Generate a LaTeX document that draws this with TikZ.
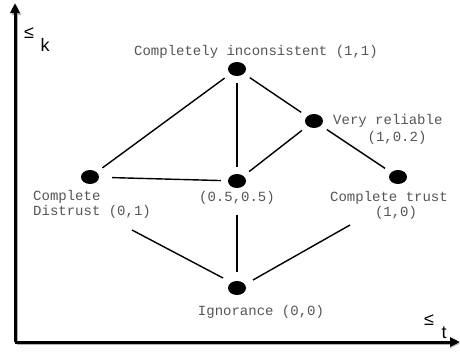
\documentclass[tikz,border=0pt]{standalone}
\usepackage{fontspec}
\setmainfont{Liberation Sans}
\newfontfamily\labelfont{Liberation Mono}
\usetikzlibrary{shapes.geometric,arrows.meta}
\definecolor{labelgray}{HTML}{555555}
\begin{document}
\begin{tikzpicture}[x=1pt,y=-1pt,
  dot/.style={ellipse,fill=black,inner sep=0pt,minimum width=18pt,minimum height=14pt},
  link/.style={line width=1.4pt,shorten <=7pt,shorten >=7pt},
  lbl/.style={font=\labelfont\fontsize{14}{15}\selectfont,text=labelgray,inner sep=0pt},
  axis/.style={line width=3pt,-{Triangle[length=10pt,width=9pt]}},
  axislbl/.style={font=\fontsize{18}{18}\selectfont,inner sep=0pt}]
\useasboundingbox (0,0) rectangle (460,351);
% axes with a faint shadow
\draw[axis,draw=black!30,fill=black!30] (16.5,343.5) -- (16.5,5);
\draw[axis,draw=black!30,fill=black!30] (16.5,343.5) -- (460,343.5);
\coordinate (origin) at (15,342);
\coordinate (ktip) at (15,3);
\coordinate (ttip) at (460,342);
\draw[axis] (origin) -- (ktip);
\draw[axis] (origin) -- (ttip);
\node[axislbl] (kleq) at (29,33) {≤};
\node[axislbl] (ksub) at (45,45) {k};
\node[axislbl] (tleq) at (429,320) {≤};
\node[axislbl] (tsub) at (444,333) {t};
% lattice points
\node[dot] (top) at (237,69) {};
\node[dot] (rel) at (314,121) {};
\node[dot] (dis) at (90,177) {};
\node[dot] (mid) at (237,181) {};
\node[dot] (tru) at (398,177) {};
\node[dot] (ign) at (237,288) {};
% labels
\node[lbl] (toplbl) at (256,52) {Completely inconsistent (1,1)};
\node[lbl,anchor=west] (rellbl) at (333,121) {Very reliable};
\node[lbl] (relval) at (397,138) {(1,0.2)};
\node[lbl] (trulbl) at (389,198) {Complete trust};
\node[lbl] (truval) at (396,213) {(1,0)};
\node[lbl,anchor=north west,align=left] (dislbl) at (33,190) {Complete\\Distrust (0,1)};
\node[lbl] (midlbl) at (237,198) {(0.5,0.5)};
\node[lbl] (ignlbl) at (261,312) {Ignorance (0,0)};
% the two lower links start just below the labels
\coordinate (disfoot) at (132,230);
\coordinate (ignleft) at (223,278);
\coordinate (trufoot) at (350,225);
\coordinate (ignright) at (253,280);
% order relations
\draw[link] (top) -- (dis);
\draw[link] (top) -- (mid);
\draw[link] (top) -- (rel);
\draw[link] (rel) -- (mid);
\draw[link] (rel) -- (tru);
\draw[link,shorten <=13pt] (dis) -- (mid);
\draw[line width=1.4pt] (disfoot) -- (ignleft);
\draw[link,shorten <=27pt,shorten >=9pt] (mid) -- (ign);
\draw[line width=1.4pt] (trufoot) -- (ignright);
\end{tikzpicture}
\end{document}
